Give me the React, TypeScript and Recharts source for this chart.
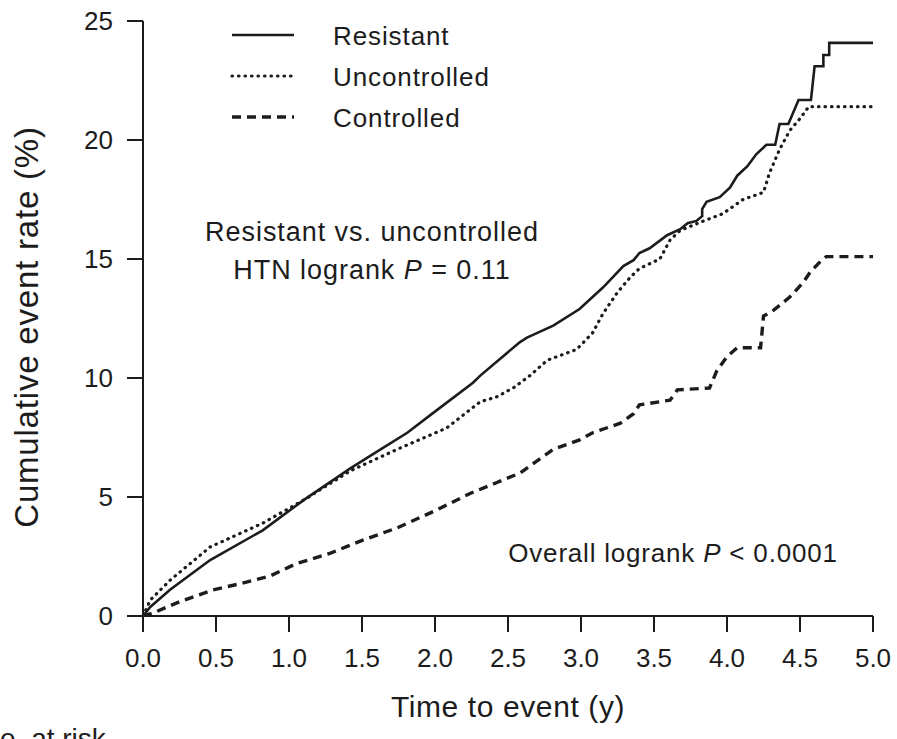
import React from 'react';
import { LineChart, Line, XAxis, YAxis, Legend } from 'recharts';

const resistantT = [0, 0.05, 0.185, 0.46, 0.82, 1.10, 1.42, 1.60, 1.81, 1.97, 2.26, 2.31, 2.58, 2.63, 2.81, 2.99, 3.15, 3.22, 3.29, 3.36, 3.40, 3.47, 3.59, 3.68, 3.73, 3.79, 3.83, 3.83, 3.86, 3.95, 4.02, 4.07, 4.14, 4.20, 4.27, 4.33, 4.36, 4.42, 4.45, 4.49, 4.575, 4.60, 4.66, 4.66, 4.70, 4.70, 5.0];
const resistantV = [0, 0.38, 1.1, 2.35, 3.6, 4.87, 6.2, 6.9, 7.7, 8.45, 9.8, 10.1, 11.5, 11.7, 12.2, 12.9, 13.8, 14.25, 14.7, 14.95, 15.25, 15.45, 16.0, 16.25, 16.5, 16.6, 16.8, 17.1, 17.4, 17.6, 18.0, 18.5, 18.9, 19.4, 19.8, 19.8, 20.67, 20.67, 21.1, 21.68, 21.68, 23.1, 23.1, 23.57, 23.57, 24.08, 24.08];

const uncontrolledT = [0, 0.05, 0.185, 0.46, 0.82, 1.10, 1.42, 1.74, 2.08, 2.31, 2.42, 2.54, 2.65, 2.77, 2.97, 3.08, 3.15, 3.25, 3.34, 3.40, 3.47, 3.54, 3.61, 3.68, 3.82, 3.97, 4.11, 4.25, 4.29, 4.36, 4.43, 4.50, 4.56, 5.0];
const uncontrolledV = [0, 0.67, 1.5, 2.9, 3.9, 4.87, 6.1, 7.0, 7.9, 9.0, 9.2, 9.6, 10.1, 10.75, 11.2, 11.9, 12.7, 13.6, 14.25, 14.6, 14.8, 15.0, 15.8, 16.2, 16.55, 16.9, 17.5, 17.8, 18.6, 19.6, 20.4, 20.9, 21.4, 21.4];

const controlledT = [0, 0.07, 0.25, 0.48, 0.66, 0.87, 1.05, 1.28, 1.51, 1.74, 2.01, 2.24, 2.42, 2.58, 2.81, 2.99, 3.08, 3.27, 3.36, 3.40, 3.61, 3.66, 3.88, 3.93, 4.0, 4.07, 4.23, 4.25, 4.32, 4.43, 4.52, 4.57, 4.64, 4.68, 5.0];
const controlledV = [0, 0.13, 0.6, 1.1, 1.35, 1.68, 2.2, 2.63, 3.2, 3.7, 4.45, 5.15, 5.6, 6.0, 7.0, 7.4, 7.7, 8.1, 8.5, 8.87, 9.07, 9.5, 9.58, 10.3, 10.9, 11.27, 11.27, 12.6, 12.85, 13.4, 14.0, 14.45, 14.9, 15.1, 15.1];

const seriesNames = ['Resistant', 'Uncontrolled', 'Controlled'];
const xTicks = [0, 0.5, 1, 1.5, 2, 2.5, 3, 3.5, 4, 4.5, 5];
const yTicks = [0, 5, 10, 15, 20, 25];

const INK = '#1c1c1c';
const FONT = '"Liberation Sans", Arial, Helvetica, sans-serif';

const zip = (ts: number[], vs: number[]) => ts.map((t, i) => ({ t, v: vs[i] }));
const resistantData = zip(resistantT, resistantV);
const uncontrolledData = zip(uncontrolledT, uncontrolledV);
const controlledData = zip(controlledT, controlledV);

const styles: Record<string, { width: number; dash?: string; cap: 'butt' | 'round' }> = {
  Resistant: { width: 2.6, cap: 'butt' },
  Uncontrolled: { width: 3.2, dash: '0.5 6', cap: 'round' },
  Controlled: { width: 3.4, dash: '9 6', cap: 'butt' },
};

const renderLegend = () => (
  <svg width={620} height={140} style={{ display: 'block' }}>
    {seriesNames.map((name, i) => {
      const y = 35 + i * 41;
      const s = styles[name];
      return (
        <g key={name}>
          <line x1={232} x2={294} y1={y} y2={y} stroke={INK} strokeWidth={s.width}
            strokeDasharray={s.dash} strokeLinecap={s.cap} />
          <text x={333} y={y + 10} fontSize={26} fill={INK} fontFamily={FONT} letterSpacing={0.9}>{name}</text>
        </g>
      );
    })}
  </svg>
);

export default function App() {
  return (
    <div style={{ position: 'absolute', left: 0, top: 0, width: 897, height: 739, background: '#fff', fontFamily: FONT, overflow: 'hidden' }}>
      <LineChart width={897} height={739} margin={{ top: 21, right: 24, left: 0, bottom: 0 }}>
        <XAxis type="number" dataKey="t" domain={[0, 5]} ticks={xTicks} allowDataOverflow
          tickFormatter={(v: number) => v.toFixed(1)} height={123}
          axisLine={{ stroke: INK, strokeWidth: 2 }} tickLine={{ stroke: INK, strokeWidth: 2 }}
          tickSize={16} tickMargin={17} tick={{ fill: INK, fontSize: 26, fontFamily: FONT }} />
        <YAxis type="number" domain={[0, 25]} ticks={yTicks} width={143} allowDataOverflow
          axisLine={{ stroke: INK, strokeWidth: 2 }} tickLine={{ stroke: INK, strokeWidth: 2 }}
          tickSize={16} tickMargin={14} tick={{ fill: INK, fontSize: 26, fontFamily: FONT }} />
        <Legend content={renderLegend} layout="horizontal" verticalAlign="middle" align="center"
          wrapperStyle={{ top: 0, left: 0, width: 620, height: 140 }} />
        <Line data={controlledData} dataKey="v" name="Controlled" type="linear" stroke={INK}
          strokeWidth={styles.Controlled.width} strokeDasharray={styles.Controlled.dash}
          dot={false} isAnimationActive={false} />
        <Line data={uncontrolledData} dataKey="v" name="Uncontrolled" type="linear" stroke={INK}
          strokeWidth={styles.Uncontrolled.width} strokeDasharray={styles.Uncontrolled.dash}
          strokeLinecap="round" dot={false} isAnimationActive={false} />
        <Line data={resistantData} dataKey="v" name="Resistant" type="linear" stroke={INK}
          strokeWidth={styles.Resistant.width} dot={false} isAnimationActive={false} />
        <text x={372} y={241} textAnchor="middle" fontSize={27} fill={INK} fontFamily={FONT} letterSpacing={0.95}>Resistant vs. uncontrolled</text>
        <text x={372} y={279} textAnchor="middle" fontSize={27} fill={INK} fontFamily={FONT} letterSpacing={0.95}>
          HTN logrank <tspan fontStyle="italic">P</tspan> = 0.11
        </text>
        <text x={673} y={562} textAnchor="middle" fontSize={26} fill={INK} fontFamily={FONT} letterSpacing={0.8}>
          Overall logrank <tspan fontStyle="italic">P</tspan> &lt; 0.0001
        </text>
        <text x={508} y={717} textAnchor="middle" fontSize={30} fill={INK} fontFamily={FONT} letterSpacing={0.6}>Time to event (y)</text>
        <text transform="translate(38,327) rotate(-90)" textAnchor="middle" fontSize={33} fill={INK} fontFamily={FONT} letterSpacing={0.8}>Cumulative event rate (%)</text>
        <text x={0} y={748} fontSize={28} fill={INK} fontFamily={FONT}>e, at risk</text>
      </LineChart>
    </div>
  );
}
